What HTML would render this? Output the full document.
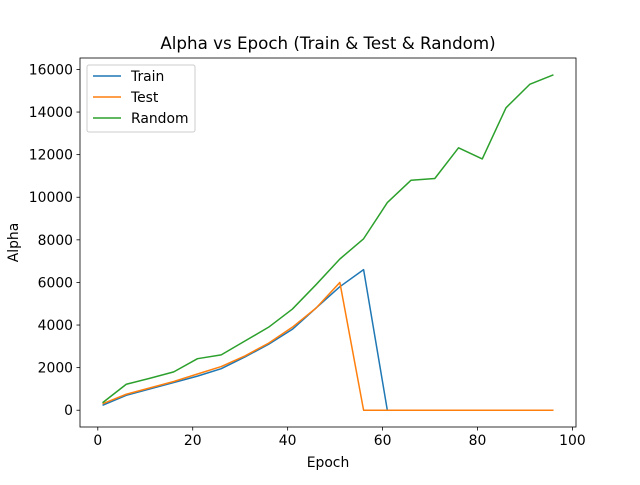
<!DOCTYPE html>
<html><head><meta charset="utf-8"><style>
body{margin:0;background:#fff;}
svg{font-family:"DejaVu Sans","Liberation Sans",sans-serif;}
</style></head><body>
<svg id="chart" width="640" height="480" xmlns="http://www.w3.org/2000/svg">
<rect width="640" height="480" fill="#fff"/>
<text x="328" y="49" font-size="16.7" text-anchor="middle">Alpha vs Epoch (Train &amp; Test &amp; Random)</text>
<g id="plot"></g>
<rect x="80" y="58" width="496" height="369" fill="none" stroke="#000" stroke-width="0.8"/>
<text x="328" y="467" font-size="13.9" text-anchor="middle">Epoch</text>
<text x="18" y="242.5" font-size="13.9" text-anchor="middle" transform="rotate(-90 18 242.5)">Alpha</text>
<g>
<rect x="87" y="65" width="108" height="67" fill="#fff" fill-opacity="0.8" stroke="#ccc" rx="2"/>
<line x1="93" y1="76" x2="121" y2="76" stroke="#1f77b4" stroke-width="1.5"/>
<text x="131" y="81" font-size="13.9">Train</text>
<line x1="93" y1="97" x2="121" y2="97" stroke="#ff7f0e" stroke-width="1.5"/>
<text x="131" y="102" font-size="13.9">Test</text>
<line x1="93" y1="118" x2="121" y2="118" stroke="#2ca02c" stroke-width="1.5"/>
<text x="131" y="123" font-size="13.9">Random</text>
</g>
</svg>
<script>
const epochs=[1,6,11,16,21,26,31,36,41,46,51,56,61,66,71,76,81,86,91,96];
const trainVals=[230,700,1000,1300,1600,1950,2500,3100,3800,4800,5800,6600,0,0,0,0,0,0,0,0];
const testVals=[300,750,1050,1350,1700,2050,2550,3150,3900,4800,6000,0,0,0,0,0,0,0,0,0];
const randomVals=[350,1220,1500,1800,2420,2600,3250,3900,4750,5900,7100,8050,9750,10800,10880,12320,11800,14200,15300,15750];
const xTicks=[0,20,40,60,80,100];
const yTicks=[0,2000,4000,6000,8000,10000,12000,14000,16000];
const NS="http://www.w3.org/2000/svg";
const L=80,R=576,T=58,B=427;
const xmin=-3.75,xmax=100.75,ymin=-787.5,ymax=16537.5;
function sx(v){return L+(v-xmin)/(xmax-xmin)*(R-L);}
function sy(v){return B-(v-ymin)/(ymax-ymin)*(B-T);}
const g=document.getElementById('plot');
function mk(tag,attrs){const e=document.createElementNS(NS,tag);for(const k in attrs)e.setAttribute(k,attrs[k]);g.appendChild(e);return e;}
xTicks.forEach(t=>{
 const l=mk('line',{x1:sx(t),x2:sx(t),y1:B,y2:B+3.5,stroke:'#000','stroke-width':0.8});
 
 
 const tx=mk('text',{x:sx(t),y:B+18,'font-size':13.9,'text-anchor':'middle'});tx.textContent=t;
 
 
});
yTicks.forEach(t=>{
 const l=mk('line',{x1:L-3.5,x2:L,y1:sy(t),y2:sy(t),stroke:'#000','stroke-width':0.8});
 
 
 const tx=mk('text',{x:L-7,y:sy(t)+5,'font-size':13.9,'text-anchor':'end'});tx.textContent=t;
 
 
});
function line(vals,color,name){
 const p=mk('polyline',{points:epochs.map((x,i)=>sx(x)+','+sy(vals[i])).join(' '),fill:'none',stroke:color,'stroke-width':1.5,'stroke-linejoin':'round'});
 
 
}
line(trainVals,'#1f77b4','train-line');
line(testVals,'#ff7f0e','test-line');
line(randomVals,'#2ca02c','random-line');
</script>
</body></html>
